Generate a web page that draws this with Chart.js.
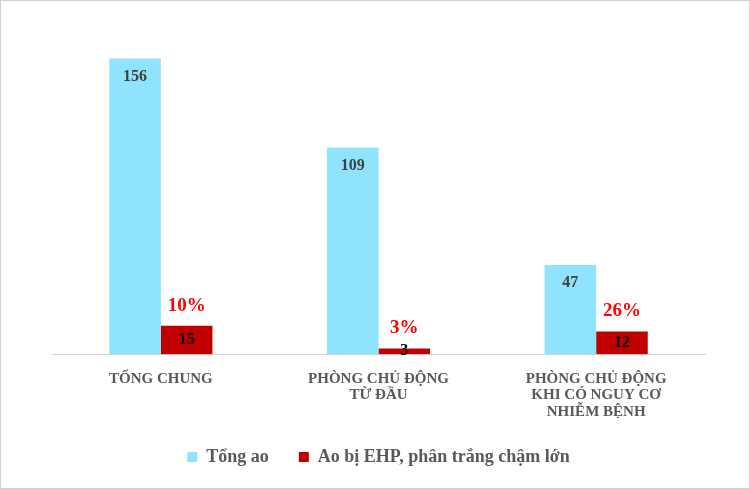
<!DOCTYPE html>
<html>
<head>
<meta charset="utf-8">
<script src="https://cdn.jsdelivr.net/npm/chart.js@4.4.0/dist/chart.umd.min.js"></script>
<style>
  html, body { margin: 0; padding: 0; background: #fff; }
  #wrap { position: relative; width: 748px; height: 487px; border: 1px solid #d0d0d0; }
</style>
</head>
<body>
<div id="wrap"><canvas id="chart" width="748" height="487"></canvas></div>
<script>
// category labels (multi-line)
const categories = [
  ['TỔNG CHUNG'],
  ['PHÒNG CHỦ ĐỘNG', 'TỪ ĐẦU'],
  ['PHÒNG CHỦ ĐỘNG', 'KHI CÓ NGUY CƠ', 'NHIỄM BỆNH']
];
const totalPonds = [156, 109, 47];     // Tổng ao
const sickPonds = [15, 3, 12];         // Ao bị EHP, phân trắng chậm lớn
const sickShare = ['10%', '3%', '26%'];

const serif = '"Liberation Serif", "DejaVu Serif", serif';

// draws the value labels and the red percentages
const labelPlugin = {
  id: 'barLabels',
  afterDatasetsDraw(chart) {
    const ctx = chart.ctx;
    ctx.save();
    ctx.textAlign = 'center';
    ctx.textBaseline = 'middle';

    const blue = chart.getDatasetMeta(0);
    ctx.font = 'bold 16px ' + serif;
    ctx.fillStyle = '#404040';
    blue.data.forEach((bar, i) => {
      ctx.fillText(totalPonds[i], bar.x, bar.y + 18);
    });

    const red = chart.getDatasetMeta(1);
    red.data.forEach((bar, i) => {
      ctx.font = 'bold 16px ' + serif;
      ctx.fillStyle = '#000';
      ctx.fillText(sickPonds[i], bar.x, Math.min((bar.y + bar.base) / 2, bar.base - 3));
      ctx.font = 'bold 19px ' + serif;
      ctx.fillStyle = '#ff0000';
      ctx.fillText(sickShare[i], bar.x, bar.y - 20);
    });
    ctx.restore();
  }
};

new Chart(document.getElementById('chart'), {
  type: 'bar',
  data: {
    labels: categories,
    datasets: [
      { label: 'Tổng ao', data: totalPonds, backgroundColor: '#8fe3fd' },
      { label: 'Ao bị EHP, phân trắng chậm lớn', data: sickPonds, backgroundColor: '#c00000' }
    ]
  },
  options: {
    responsive: false,
    animation: false,
    layout: { padding: { left: 51, right: 44, top: 12, bottom: 12 } },
    datasets: { bar: { barPercentage: 1, categoryPercentage: 0.474 } },
    scales: {
      x: {
        grid: { display: false, drawTicks: false },
        border: { color: '#d0d0d0' },
        ticks: {
          color: '#595959',
          font: { family: serif, size: 15, weight: 'bold', lineHeight: 1.13 },
          padding: 16,
          maxRotation: 0
        },
        afterFit(scale) { scale.height -= 19; }
      },
      y: { display: false, min: 0, max: 180 }
    },
    plugins: {
      legend: {
        position: 'bottom',
        labels: {
          color: '#595959',
          font: { family: serif, size: 18, weight: 'bold' },
          boxWidth: 10,
          boxHeight: 10,
          padding: 30
        }
      },
      tooltip: { enabled: false }
    }
  },
  plugins: [labelPlugin]
});
</script>
</body>
</html>
